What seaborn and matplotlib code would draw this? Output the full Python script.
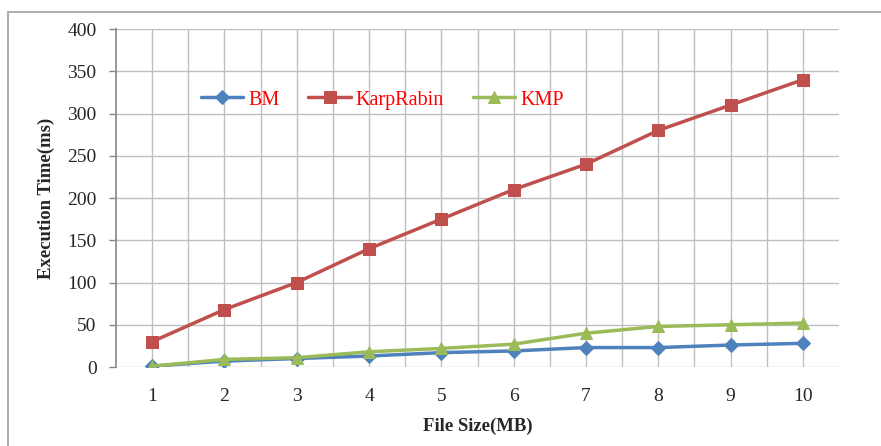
import matplotlib
matplotlib.use("Agg")
import matplotlib.pyplot as plt
import seaborn as sns
import pandas as pd
from matplotlib.patches import Rectangle

# Execution time (ms) of three string-matching algorithms by file size
file_sizes = [1, 2, 3, 4, 5, 6, 7, 8, 9, 10]
bm = [1, 7, 10, 13, 17, 19, 23, 23, 26, 28]
karp_rabin = [30, 68, 100, 140, 175, 210, 240, 280, 310, 340]
kmp = [1, 9, 11, 18, 22, 27, 40, 48, 50, 52]
series_names = ["BM", "KarpRabin", "KMP"]
y_ticks = [0, 50, 100, 150, 200, 250, 300, 350, 400]

df = pd.DataFrame({
    "size": file_sizes * 3,
    "time": bm + karp_rabin + kmp,
    "algo": [n for n in series_names for _ in file_sizes],
})

sns.set_theme(style="white")
plt.rcParams["font.family"] = ["Liberation Serif", "DejaVu Serif"]

fig = plt.figure(figsize=(8.81, 4.46), dpi=100)
ax = fig.add_axes([116 / 881, 1 - 367 / 446, 723 / 881, 338 / 446])

palette = {"BM": "#4F81BD", "KarpRabin": "#C0504D", "KMP": "#9BBB59"}
markers = {"BM": "D", "KarpRabin": "s", "KMP": "^"}
sizes = {"BM": 7, "KarpRabin": 8.5, "KMP": 9}

for name in series_names:
    sub = df[df["algo"] == name]
    sns.lineplot(data=sub, x="size", y="time", ax=ax, color=palette[name],
                 marker=markers[name], markersize=sizes[name],
                 markeredgecolor=palette[name], linewidth=2.5, label=name,
                 zorder=3)

ax.set_xlim(0.5, 10.5)
ax.set_ylim(0, 400)
ax.set_xticks(file_sizes)
ax.set_xticks([x + 0.5 for x in file_sizes[:-1]], minor=True)
ax.set_yticks(y_ticks)
ax.grid(True, which="both", axis="x", color="#BFBFBF", linewidth=1.0, zorder=0)
ax.grid(True, which="major", axis="y", color="#BFBFBF", linewidth=1.0, zorder=0)

ax.tick_params(axis="x", which="both", length=0, pad=15, labelsize=14)
ax.tick_params(axis="y", which="major", length=5, width=1, color="#868686",
               direction="out", pad=9, labelsize=14, left=True)

for side in ["top", "right", "bottom"]:
    ax.spines[side].set_visible(False)
ax.spines["left"].set_color("#868686")
ax.spines["left"].set_linewidth(1.2)

ax.set_xlabel("File Size(MB)", fontsize=13.5, fontweight="bold", labelpad=9)
ax.set_ylabel("Execution Time(ms)", fontsize=13.5, fontweight="bold", labelpad=9)

leg = ax.legend(loc="center left", bbox_to_anchor=(0.092, 0.79), ncol=3,
                frameon=False, fontsize=14.5, handlelength=2.1,
                columnspacing=1.45, handletextpad=0.25)
for t in leg.get_texts():
    t.set_color("red")

# outer frame of the chart area
fig.patches.append(Rectangle((8 / 881, -0.1), 1.2, 1 - 12 / 446 + 0.1,
                             transform=fig.transFigure, fill=False,
                             edgecolor="#A0A0A0", linewidth=1.2))

fig.savefig("out.png", dpi=100)
